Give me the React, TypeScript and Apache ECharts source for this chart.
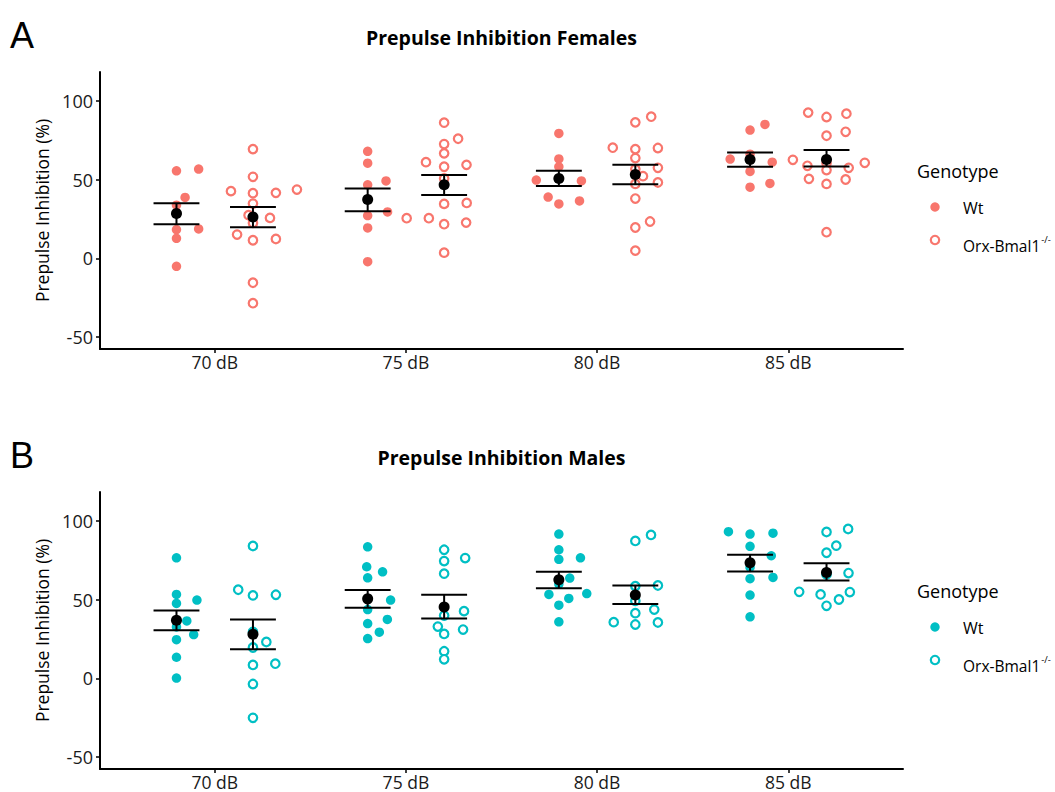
import React, { useEffect, useRef } from "react";
import * as echarts from "echarts";

const categories = ["70 dB", "75 dB", "80 dB", "85 dB"];
const yTickValues = [-50, 0, 50, 100];
const genotypes = ["Wt", "Orx-Bmal1"];
const koSuperscript = "-/-";

// Panel A (females)
const femWtValues = [
  [55.6, 56.7, 38.7, 33.8, 18.3, 18.7, 12.7, -5.1],
  [68.0, 60.5, 46.7, 49.2, 29.5, 27.2, 19.3, -2.1],
  [79.4, 63.2, 58.2, 49.7, 49.2, 38.9, 34.6, 36.5],
  [81.5, 85.1, 66.2, 63.1, 61.1, 55.2, 47.6, 45.2],
];
const femWtJitter = [
  [0, 0.116, 0.045, 0, 0, 0.116, 0, 0],
  [0, 0, 0, 0.096, 0.104, 0, 0, 0],
  [0, 0, 0, -0.118, 0.118, -0.056, 0, 0.108],
  [0, 0.078, 0, -0.104, 0.116, 0, 0.104, 0],
];
const femKoValues = [
  [69.4, 51.8, 42.7, 41.4, 41.6, 43.7, 34.8, 27.4, 25.7, 22.5, 15.1, 11.5, 12.3, -15.5, -28.5],
  [86.2, 76.0, 72.6, 66.7, 61.1, 58.2, 59.4, 50.8, 34.6, 35.2, 25.5, 25.5, 21.7, 22.7, 3.6],
  [86.4, 90.0, 70.3, 69.4, 70.1, 63.7, 56.7, 52.2, 57.5, 48.2, 47.3, 38.0, 19.6, 23.4, 4.9],
  [92.6, 89.8, 91.9, 77.9, 80.4, 62.6, 60.5, 58.8, 56.1, 57.5, 60.7, 50.5, 47.3, 50.1, 16.6],
];
const femKoJitter = [
  [0, 0, -0.115, 0, 0.12, 0.23, 0, -0.023, 0.089, 0, -0.083, 0, 0.12, 0, 0],
  [0, 0.073, 0, 0, -0.095, 0, 0.117, 0, 0, 0.118, -0.196, -0.08, 0, 0.115, 0],
  [0, 0.083, -0.118, 0, 0.118, 0, 0, 0.04, 0.118, 0.118, 0, 0, 0, 0.077, 0],
  [-0.096, 0, 0.104, 0, 0.1, -0.176, 0, -0.1, 0, 0.116, 0.2, -0.092, 0, 0.1, 0],
];
const femWtMean = [28.5, 37.4, 50.7, 62.8];
const femWtLow = [21.7, 29.9, 45.9, 58.2];
const femWtHigh = [35.0, 44.4, 55.6, 67.3];
const femKoMean = [26.3, 46.7, 53.3, 62.8];
const femKoLow = [19.7, 40.3, 47.1, 58.4];
const femKoHigh = [32.7, 52.9, 59.4, 68.8];

// Panel B (males)
const maleWtValues = [
  [76.6, 53.3, 47.6, 49.7, 36.5, 32.7, 27.8, 24.6, 13.4, 0.2],
  [83.6, 70.9, 67.7, 63.9, 49.7, 43.7, 37.4, 34.8, 29.3, 25.3],
  [91.7, 81.7, 75.6, 76.6, 63.7, 59.9, 53.3, 53.9, 50.8, 46.5, 35.9],
  [93.2, 91.7, 92.2, 83.9, 77.9, 70.5, 63.3, 64.1, 52.9, 39.1],
];
const maleWtJitter = [
  [0, 0, 0, 0.107, 0.054, 0, 0.09, 0, 0, 0],
  [0, -0.005, 0.078, 0, 0.12, 0, 0.103, 0, 0.061, 0],
  [0, 0, 0, 0.113, 0.057, 0, -0.052, 0.146, 0.052, 0, 0],
  [-0.113, 0, 0.12, 0, 0.111, 0, 0, 0.12, 0, 0],
];
const maleKoValues = [
  [84.1, 56.3, 52.7, 53.1, 29.5, 23.1, 19.6, 8.5, 9.3, -3.6, -25.1],
  [81.7, 76.4, 74.5, 66.5, 42.7, 39.9, 32.9, 31.0, 28.2, 17.2, 12.1],
  [87.3, 91.1, 58.6, 59.0, 49.2, 43.7, 41.4, 35.7, 34.2, 35.5],
  [93.0, 94.9, 84.3, 79.8, 66.0, 66.9, 55.0, 53.3, 54.8, 50.1, 46.1],
];
const maleKoJitter = [
  [0, -0.077, 0, 0.12, 0, 0.07, 0, 0, 0.117, 0, 0],
  [0, 0.11, 0, 0, 0.104, 0, -0.033, 0.099, 0, 0, 0],
  [0, 0.082, 0, 0.118, 0, 0.099, 0, -0.113, 0, 0.118],
  [0, 0.113, 0.051, 0, 0, 0.115, -0.143, -0.031, 0.122, 0.065, 0],
];
const maleWtMean = [36.9, 50.5, 62.6, 73.4];
const maleWtLow = [30.6, 44.8, 57.3, 67.9];
const maleWtHigh = [43.1, 56.1, 67.7, 78.6];
const maleKoMean = [28.0, 45.4, 52.9, 67.3];
const maleKoLow = [18.5, 38.0, 47.3, 62.2];
const maleKoHigh = [37.4, 53.1, 59.0, 73.1];

const FONT = "'Open Sans', 'Noto Sans', sans-serif";
const TEXT = "#1a1a1a";
const DODGE = 0.2;
const CAP_HALF = 0.12;

type Panel = {
  title: string;
  letter: string;
  color: string;
  wtValues: number[][];
  wtJitter: number[][];
  koValues: number[][];
  koJitter: number[][];
  wtMean: number[];
  wtLow: number[];
  wtHigh: number[];
  koMean: number[];
  koLow: number[];
  koHigh: number[];
};

const panels: Panel[] = [
  {
    title: "Prepulse Inhibition Females",
    letter: "A",
    color: "#F8766D",
    wtValues: femWtValues,
    wtJitter: femWtJitter,
    koValues: femKoValues,
    koJitter: femKoJitter,
    wtMean: femWtMean,
    wtLow: femWtLow,
    wtHigh: femWtHigh,
    koMean: femKoMean,
    koLow: femKoLow,
    koHigh: femKoHigh,
  },
  {
    title: "Prepulse Inhibition Males",
    letter: "B",
    color: "#00BFC4",
    wtValues: maleWtValues,
    wtJitter: maleWtJitter,
    koValues: maleKoValues,
    koJitter: maleKoJitter,
    wtMean: maleWtMean,
    wtLow: maleWtLow,
    wtHigh: maleWtHigh,
    koMean: maleKoMean,
    koLow: maleKoLow,
    koHigh: maleKoHigh,
  },
];

export default function App() {
  const ref = useRef<HTMLDivElement>(null);
  useEffect(() => {
    if (!ref.current) return;
    const chart = echarts.init(ref.current, null, { renderer: "svg" });
    const gridTops = [72, 492];
    const grids = gridTops.map((t) => ({ left: 100, top: t, width: 803, height: 277 }));

    const xAxes = gridTops.map((_, i) => ({
      type: "value",
      gridIndex: i,
      min: 0.4,
      max: 4.6,
      splitLine: { show: false },
      axisLine: { show: true, onZero: false, lineStyle: { color: "#000", width: 2 } },
      axisTick: { show: true, length: 4, lineStyle: { color: "#000", width: 1.5 }, customValues: [1, 2, 3, 4] },
      axisLabel: {
        customValues: [1, 2, 3, 4],
        formatter: (v: number) => categories[Math.round(v) - 1] || "",
        color: TEXT,
        fontFamily: FONT,
        fontSize: 17.5,
        lineHeight: 17,
        margin: 4,
      },
    }));
    const yAxes = gridTops.map((_, i) => ({
      type: "value",
      gridIndex: i,
      min: -57.6,
      max: 118.4,
      name: "Prepulse Inhibition (%)",
      nameLocation: "middle",
      nameGap: 47,
      nameTextStyle: { fontFamily: FONT, fontSize: 17.5, color: "#000" },
      splitLine: { show: false },
      axisLine: { show: true, onZero: false, lineStyle: { color: "#000", width: 2 } },
      axisTick: { show: true, length: 4, lineStyle: { color: "#000", width: 1.5 }, customValues: yTickValues },
      axisLabel: {
        customValues: yTickValues,
        color: TEXT,
        fontFamily: FONT,
        fontSize: 18,
        margin: 7,
      },
    }));

    const series: any[] = [];
    const graphics: any[] = [];
    panels.forEach((p, pi) => {
      const groups = [
        { vals: p.wtValues, jit: p.wtJitter, mean: p.wtMean, lo: p.wtLow, hi: p.wtHigh, off: -DODGE, open: false },
        { vals: p.koValues, jit: p.koJitter, mean: p.koMean, lo: p.koLow, hi: p.koHigh, off: DODGE, open: true },
      ];
      groups.forEach((g, gi) => {
        const data: number[][] = [];
        g.vals.forEach((arr, ci) => {
          arr.forEach((v, j) => data.push([ci + 1 + g.off + g.jit[ci][j], v]));
        });
        series.push({
          type: "scatter",
          name: genotypes[gi],
          xAxisIndex: pi,
          yAxisIndex: pi,
          symbol: "circle",
          symbolSize: g.open ? 8.5 : 9.5,
          itemStyle: g.open
            ? { color: "#fff", borderColor: p.color, borderWidth: 2.2, opacity: 1 }
            : { color: p.color, opacity: 1 },
          data,
          z: 2,
        });
      });
      groups.forEach((g) => {
        const ebData = g.mean.map((_, ci) => [ci + 1 + g.off, g.lo[ci], g.hi[ci]]);
        series.push({
          type: "custom",
          xAxisIndex: pi,
          yAxisIndex: pi,
          encode: { x: 0, y: [1, 2] },
          data: ebData,
          z: 3,
          renderItem: (_params: any, api: any) => {
            const x = api.value(0);
            const lo = api.value(1);
            const hi = api.value(2);
            const pLo = api.coord([x, lo]);
            const pHi = api.coord([x, hi]);
            const pR = api.coord([x + CAP_HALF, lo]);
            const h = pR[0] - pLo[0];
            const st = { stroke: "#000", lineWidth: 2 };
            return {
              type: "group",
              children: [
                { type: "line", shape: { x1: pLo[0], y1: pLo[1], x2: pHi[0], y2: pHi[1] }, style: st },
                { type: "line", shape: { x1: pLo[0] - h, y1: pLo[1], x2: pLo[0] + h, y2: pLo[1] }, style: st },
                { type: "line", shape: { x1: pHi[0] - h, y1: pHi[1], x2: pHi[0] + h, y2: pHi[1] }, style: st },
              ],
            };
          },
        });
        series.push({
          type: "scatter",
          xAxisIndex: pi,
          yAxisIndex: pi,
          symbolSize: 11,
          itemStyle: { color: "#000", opacity: 1 },
          data: g.mean.map((m, ci) => [ci + 1 + g.off, m]),
          z: 4,
        });
      });

      const dy = gridTops[pi] - gridTops[0];
      graphics.push(
        {
          type: "text",
          x: 10,
          y: 35 + dy,
          style: { text: p.letter, font: `36px 'Liberation Sans', Arial, sans-serif`, fill: "#000", textVerticalAlign: "middle" },
        },
        {
          type: "text",
          x: 501.5,
          y: 37 + dy,
          style: {
            text: p.title,
            font: `bold 19.5px ${FONT}`,
            fill: "#000",
            textAlign: "center",
            textVerticalAlign: "middle",
          },
        },
        {
          type: "text",
          x: 917,
          y: 171 + dy,
          style: { text: "Genotype", font: `18px ${FONT}`, fill: "#000", textVerticalAlign: "middle" },
        },
        {
          type: "circle",
          shape: { cx: 935, cy: 207 + dy, r: 4.7 },
          style: { fill: p.color },
        },
        {
          type: "text",
          x: 963,
          y: 208 + dy,
          style: { text: genotypes[0], font: `16px ${FONT}`, fill: "#000", textVerticalAlign: "middle" },
        },
        {
          type: "circle",
          shape: { cx: 935, cy: 240 + dy, r: 4.2 },
          style: { fill: "#fff", stroke: p.color, lineWidth: 2.2 },
        },
        {
          type: "text",
          x: 963,
          y: 234 + dy,
          style: {
            text: `{a|${genotypes[1]}}{s|${koSuperscript}}`,
            fill: "#000",
            textVerticalAlign: "top",
            rich: {
              a: { fontFamily: FONT, fontSize: 15.5, lineHeight: 20, verticalAlign: "bottom", fill: "#000" },
              s: { fontFamily: FONT, fontSize: 9.5, lineHeight: 20, verticalAlign: "top", fill: "#000", padding: [0, 0, 0, 1] },
            },
          },
        }
      );
    });

    chart.setOption({
      animation: false,
      backgroundColor: "#fff",
      grid: grids,
      xAxis: xAxes,
      yAxis: yAxes,
      series,
      graphic: { elements: graphics },
    });
    return () => chart.dispose();
  }, []);
  return <div ref={ref} style={{ position: "absolute", left: 0, top: 0, width: 1055, height: 792 }} />;
}
